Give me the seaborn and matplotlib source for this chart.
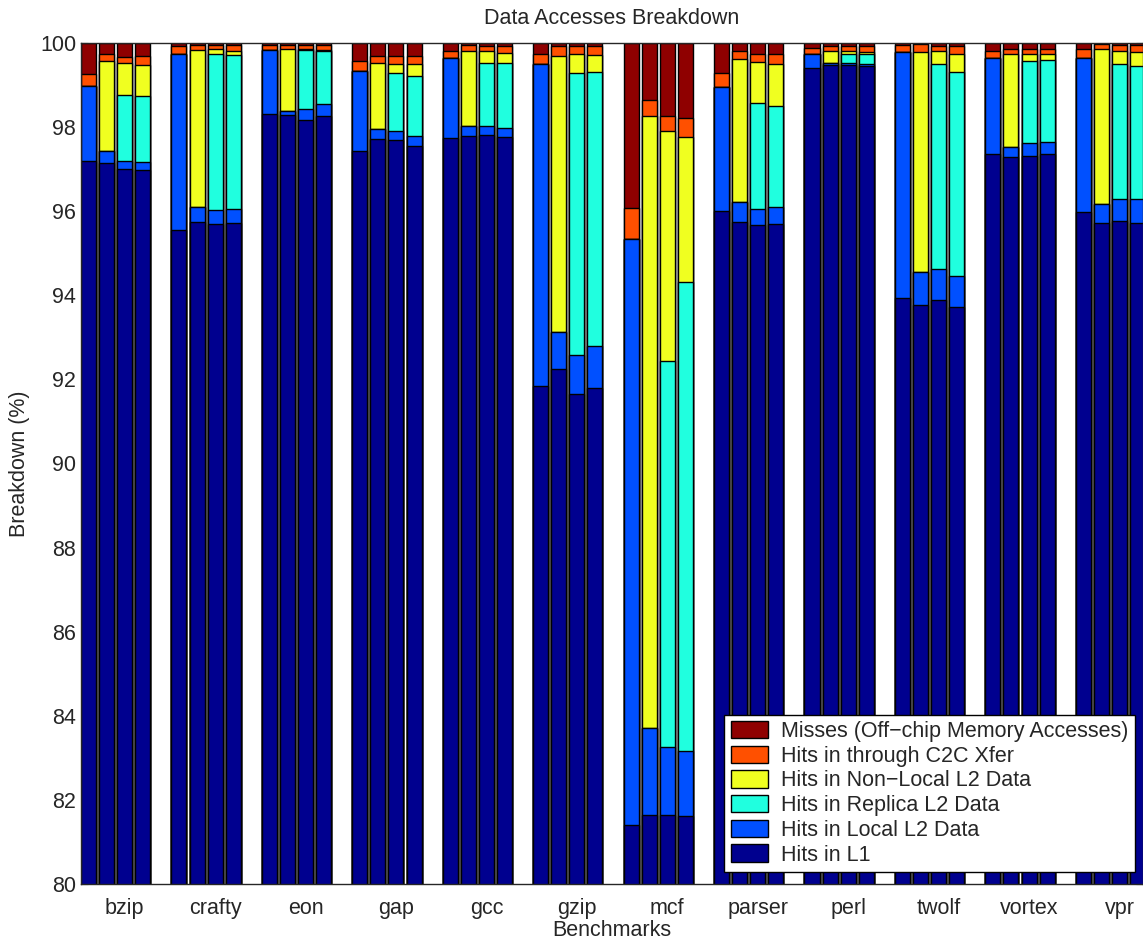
import numpy as np
import pandas as pd
import matplotlib
matplotlib.use('Agg')
import matplotlib.pyplot as plt
from matplotlib.patches import Patch
import seaborn as sns

benchmarks = ['bzip', 'crafty', 'eon', 'gap', 'gcc', 'gzip',
              'mcf', 'parser', 'perl', 'twolf', 'vortex', 'vpr']
configs = ['cfg1', 'cfg2', 'cfg3', 'cfg4']

# breakdown (%) per benchmark, 4 configurations each
hits_l1 = [
    [97.20, 97.15, 97.00, 96.98],
    [95.55, 95.75, 95.69, 95.71],
    [98.30, 98.29, 98.17, 98.27],
    [97.44, 97.71, 97.69, 97.55],
    [97.73, 97.79, 97.81, 97.77],
    [91.84, 92.25, 91.65, 91.80],
    [81.40, 81.64, 81.64, 81.62],
    [96.00, 95.74, 95.67, 95.69],
    [99.40, 99.48, 99.48, 99.46],
    [93.93, 93.77, 93.90, 93.71],
    [97.35, 97.30, 97.31, 97.35],
    [95.99, 95.71, 95.77, 95.73],
]
hits_local = [
    [1.78, 0.29, 0.20, 0.20],
    [4.20, 0.36, 0.34, 0.34],
    [1.53, 0.09, 0.26, 0.28],
    [1.90, 0.24, 0.22, 0.24],
    [1.91, 0.24, 0.22, 0.22],
    [7.66, 0.88, 0.93, 0.99],
    [13.93, 2.06, 1.61, 1.54],
    [2.95, 0.47, 0.38, 0.40],
    [0.33, 0.05, 0.04, 0.05],
    [5.86, 0.79, 0.72, 0.76],
    [2.30, 0.23, 0.30, 0.29],
    [3.66, 0.46, 0.51, 0.55],
]
hits_replica = [
    [0, 0, 1.56, 1.57],
    [0, 0, 3.72, 3.66],
    [0, 0, 1.40, 1.26],
    [0, 0, 1.38, 1.43],
    [0, 0, 1.50, 1.53],
    [0, 0, 6.70, 6.53],
    [0, 0, 9.19, 11.15],
    [0, 0, 2.53, 2.41],
    [0, 0, 0.21, 0.22],
    [0, 0, 4.87, 4.85],
    [0, 0, 1.97, 1.96],
    [0, 0, 3.22, 3.18],
]
hits_nonlocal = [
    [0, 2.14, 0.76, 0.73],
    [0, 3.72, 0.10, 0.10],
    [0, 1.48, 0.03, 0.02],
    [0, 1.58, 0.21, 0.27],
    [0, 1.79, 0.27, 0.25],
    [0, 6.57, 0.45, 0.39],
    [0, 14.56, 5.47, 3.45],
    [0, 3.41, 0.96, 1.00],
    [0, 0.28, 0.07, 0.06],
    [0, 5.23, 0.32, 0.43],
    [0, 2.21, 0.16, 0.14],
    [0, 3.68, 0.32, 0.33],
]
hits_c2c = [
    [0.28, 0.17, 0.15, 0.21],
    [0.19, 0.12, 0.10, 0.14],
    [0.12, 0.09, 0.09, 0.12],
    [0.23, 0.17, 0.19, 0.20],
    [0.18, 0.13, 0.13, 0.16],
    [0.25, 0.24, 0.20, 0.22],
    [0.74, 0.38, 0.35, 0.45],
    [0.33, 0.19, 0.19, 0.23],
    [0.14, 0.12, 0.13, 0.14],
    [0.16, 0.18, 0.13, 0.18],
    [0.16, 0.12, 0.11, 0.12],
    [0.20, 0.12, 0.14, 0.17],
]
misses = [
    [0.74, 0.25, 0.33, 0.31],
    [0.06, 0.05, 0.05, 0.05],
    [0.05, 0.05, 0.05, 0.05],
    [0.43, 0.30, 0.31, 0.31],
    [0.18, 0.05, 0.07, 0.07],
    [0.25, 0.06, 0.07, 0.07],
    [3.93, 1.36, 1.74, 1.79],
    [0.72, 0.19, 0.27, 0.27],
    [0.13, 0.07, 0.07, 0.07],
    [0.05, 0.03, 0.06, 0.07],
    [0.19, 0.14, 0.15, 0.14],
    [0.15, 0.03, 0.04, 0.04],
]

components = ['Hits in L1', 'Hits in Local L2 Data', 'Hits in Replica L2 Data',
              'Hits in Non\u2212Local L2 Data', 'Hits in through C2C Xfer',
              'Misses (Off\u2212chip Memory Accesses)']
colors = ['#00008F', '#0050FF', '#20FFDF', '#F0FF20', '#FF5000', '#8F0000']
values = [hits_l1, hits_local, hits_replica, hits_nonlocal, hits_c2c, misses]

# long table with cumulative tops for layered stacking
rows = []
for bi, b in enumerate(benchmarks):
    for ci, c in enumerate(configs):
        row = {'bench': b, 'config': c}
        total = 0.0
        for k, comp in enumerate(components):
            total += values[k][bi][ci]
            row[comp] = total
        rows.append(row)
df = pd.DataFrame(rows)

sns.set_style('ticks')
plt.rcParams['font.family'] = ['Liberation Sans', 'DejaVu Sans']
plt.rcParams['xtick.direction'] = 'in'
plt.rcParams['ytick.direction'] = 'in'

fs = 15.5
fig = plt.figure(figsize=(11.43, 9.44), dpi=100)
ax = fig.add_axes([81 / 1143, 60 / 944, 1062 / 1143, 841 / 944])

# draw from the top of the stack downwards so lower parts cover upper ones
for comp, col in reversed(list(zip(components, colors))):
    sns.barplot(data=df, x='bench', y=comp, hue='config', order=benchmarks,
                hue_order=configs, palette={c: col for c in configs},
                saturation=1, width=0.8, gap=0.17, edgecolor='black',
                linewidth=1, errorbar=None, legend=False, ax=ax)

ax.set_ylim(80, 100)
ax.set_yticks(np.arange(80, 101, 2))
ax.set_xlim(-0.383, 11.36)
ax.set_xticks(np.arange(len(benchmarks)) + 0.1)
ax.set_xticklabels(benchmarks)
ax.tick_params(axis='both', labelsize=fs, length=5, width=0.8, top=True, right=True)
ax.tick_params(axis='x', length=0, pad=10)
for s in ax.spines.values():
    s.set_linewidth(1.0)
    s.set_visible(True)

ax.set_title('Data Accesses Breakdown', fontsize=fs, pad=14)
ax.set_xlabel('Benchmarks', fontsize=fs, labelpad=1)
ax.set_ylabel('Breakdown (%)', fontsize=fs, labelpad=7)

handles = [Patch(facecolor=col, edgecolor='black', label=comp)
           for comp, col in zip(components, colors)]
leg = ax.legend(handles=handles[::-1], loc='lower right',
                bbox_to_anchor=(0.9925, 0.0143), borderaxespad=0,
                fontsize=fs, frameon=True, fancybox=False, framealpha=1,
                edgecolor='black', handlelength=1.75, handleheight=0.85,
                handletextpad=0.6, labelspacing=0.17, borderpad=0.3)
leg.get_frame().set_linewidth(1.0)

fig.savefig('out.png', dpi=100)
